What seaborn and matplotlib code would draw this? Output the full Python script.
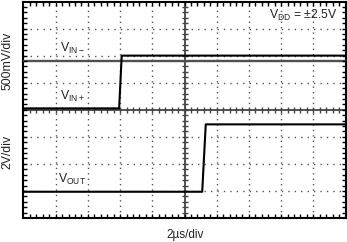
import numpy as np
import pandas as pd
import matplotlib
matplotlib.use("Agg")
import matplotlib.pyplot as plt
import seaborn as sns

# ---- data (time in µs, amplitude in screen divisions, 0 = bottom of screen) ----
t_vin_minus = [0.0, 20.0]
vin_minus = [5.80, 5.80]

t_vin_plus = [0.0, 5.94, 6.10, 20.0]
vin_plus = [4.05, 4.05, 6.00, 6.00]

t_vout = [0.0, 11.10, 11.32, 20.0]
vout = [0.97, 0.97, 3.46, 3.46]

labels = {"vin_minus": r"$\mathrm{V_{IN-}}$", "vin_plus": r"$\mathrm{V_{IN+}}$",
          "vout": r"$\mathrm{V_{OUT}}$"}
vdd_text = r"$\mathrm{V_{DD}}$ = ±2.5V"
ylabel_top = "500mV/div"
ylabel_bottom = "2V/div"
xlabel = "2µs/div"

sns.set_style("ticks")
plt.rcParams["font.family"] = ["Liberation Sans", "DejaVu Sans"]
plt.rcParams["mathtext.fontset"] = "custom"
plt.rcParams["mathtext.rm"] = "Liberation Sans"
plt.rcParams["mathtext.it"] = "Liberation Sans:italic"
plt.rcParams["mathtext.bf"] = "Liberation Sans:bold"
plt.rcParams["lines.scale_dashes"] = False

W, H = 347, 242
fig = plt.figure(figsize=(W / 100, H / 100), dpi=100)
left_px, right_px, top_px, bot_px = 23.5, 345.5, 1.5, 218.0
ax = fig.add_axes([left_px / W, (H - bot_px) / H,
                   (right_px - left_px) / W, (bot_px - top_px) / H])

XMAX, YMAX = 20.0, 8.0
ax.set_xlim(0, XMAX)
ax.set_ylim(0, YMAX)

# dotted graticule
grid_col = "#555555"
px_per_x = (right_px - left_px) / XMAX   # px per µs
px_per_y = (bot_px - top_px) / YMAX      # px per div
per_h_pt = 0.4 * px_per_x * 0.72   # horizontal dot period (0.2 div)
per_v_pt = 0.2 * px_per_y * 0.72   # vertical dot period
dot = 1.0
for xv in np.arange(2, 20, 2):
    if abs(xv - 10) < 1e-9:
        continue
    ax.plot([xv, xv], [0, YMAX], color=grid_col, lw=1.0, dash_capstyle="butt",
            linestyle=(per_v_pt - dot / 2, (dot, per_v_pt - dot)), zorder=1)
for yv in [1, 2, 3, 5, 6, 7]:
    ax.plot([0, XMAX], [yv, yv], color=grid_col, lw=1.0, dash_capstyle="butt",
            linestyle=(per_h_pt - dot / 2, (dot, per_h_pt - dot)), zorder=1)

# centre axes with ticks
cen_col = "#444444"
ax.axhline(4, color=cen_col, lw=1.3, zorder=2)
ax.axvline(10, color=cen_col, lw=1.3, zorder=2)
hx = 3.0 / px_per_y
xt = np.arange(0.4, 20, 0.4)
ax.vlines(xt, 4 - hx, 4 + hx, color=cen_col, lw=1.0, zorder=2)
hy = 3.0 / px_per_x
yt = np.arange(0.2, 8, 0.2)
ax.hlines(yt, 10 - hy, 10 + hy, color=cen_col, lw=1.0, zorder=2)

# border ticks (inward)
tl_y = 4.0 / px_per_y
tl_x = 4.0 / px_per_x
ax.vlines(xt, 0, tl_y, color="black", lw=1.0, zorder=5)
ax.vlines(xt, YMAX - tl_y, YMAX, color="black", lw=1.0, zorder=5)
ax.hlines(yt, 0, tl_x, color="black", lw=1.0, zorder=5)
ax.hlines(yt, XMAX - tl_x, XMAX, color="black", lw=1.0, zorder=5)

# traces
sns.lineplot(x=t_vin_minus, y=vin_minus, ax=ax, color="#505050", linewidth=1.7,
             sort=False, estimator=None, zorder=3)
sns.lineplot(x=t_vin_plus, y=vin_plus, ax=ax, color="black", linewidth=1.5,
             sort=False, estimator=None, zorder=4)
sns.lineplot(x=t_vout, y=vout, ax=ax, color="black", linewidth=1.5,
             sort=False, estimator=None, zorder=4)

# frame
for s in ax.spines.values():
    s.set_linewidth(1.5)
    s.set_color("black")
    s.set_visible(True)
ax.set_xticks([])
ax.set_yticks([])
ax.set_xlabel("")
ax.set_ylabel("")

txt_col = "#222222"
fs = 8.8
ax.text(2.27, 6.12, labels["vin_minus"], fontsize=fs, color=txt_col, va="baseline", ha="left")
ax.text(2.27, 4.36, labels["vin_plus"], fontsize=fs, color=txt_col, va="baseline", ha="left")
ax.text(2.16, 1.28, labels["vout"], fontsize=fs, color=txt_col, va="baseline", ha="left")
ax.text(19.55, 7.34, vdd_text, fontsize=fs, color=txt_col, va="baseline", ha="right")

fig.text(7.5 / W, 1 - 61 / H, ylabel_top, rotation=90, ha="center", va="center",
         fontsize=8.8, color=txt_col)
fig.text(7.5 / W, 1 - 151.5 / H, ylabel_bottom, rotation=90, ha="center", va="center",
         fontsize=8.8, color=txt_col)
fig.text(185 / W, 1 - 238.3 / H, xlabel, ha="center", va="baseline",
         fontsize=8.5, color=txt_col)

fig.savefig("out.png", dpi=100)
